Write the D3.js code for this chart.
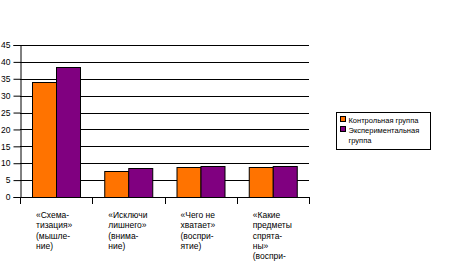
<!DOCTYPE html>
<html>
<head>
<meta charset="utf-8">
<script src="https://cdn.jsdelivr.net/npm/d3@7"></script>
<style>
  body { margin: 0; background: #fff; }
  text { font-family: "Liberation Sans", Arial, sans-serif; }
</style>
</head>
<body>
<svg id="chart" width="458" height="269"></svg>
<script>
// chart data
const categories = [
  ["«Схема-", "тизация»", "(мышле-", "ние)"],
  ["«Исключи", "лишнего»", "(внима-", "ние)"],
  ["«Чего не", "хватает»", "(воспри-", "ятие)"],
  ["«Какие", "предметы", "спрята-", "ны»", "(воспри-"]
];
const seriesNames = ["Контрольная группа", "Экспериментальная группа"];
const controlValues = [34.0, 7.6, 8.9, 8.8];
const experimentValues = [38.5, 8.6, 9.2, 9.1];
const yTicks = [0, 5, 10, 15, 20, 25, 30, 35, 40, 45];
const colors = ["#ff7300", "#800080"];

const svg = d3.select('#chart');
const plot = { left: 20, right: 309, top: 45, bottom: 197 };

let y = d3.scaleLinear()
  .domain([0, 45])
  .range([plot.bottom, plot.top]);

let x0 = d3.scaleBand()
  .domain(d3.range(categories.length))
  .range([plot.left, plot.right])
  .paddingInner(0)
  .paddingOuter(0);

let x1 = d3.scaleBand()
  .domain([0, 1])
  .range([0, x0.bandwidth()])
  .paddingOuter(0.5);

// gridlines
svg.append('g')
  .selectAll('line')
  .data(yTicks.filter(d => d > 0))
  .join('line')
  .attr('x1', plot.left)
  .attr('x2', plot.right)
  .attr('y1', d => Math.round(y(d)) + 0.5)
  .attr('y2', d => Math.round(y(d)) + 0.5)
  .attr('stroke', '#000')
  .attr('stroke-width', 1);

// bars
const rows = d3.range(categories.length).map(i => [controlValues[i], experimentValues[i]]);
const groups = svg.append('g')
  .selectAll('g')
  .data(rows)
  .join('g')
  .attr('transform', (d, i) => `translate(${x0(i)},0)`);

groups.selectAll('rect')
  .data(d => d)
  .join('rect')
  .attr('x', (d, j) => Math.round(x1(j)) + 0.5)
  .attr('y', d => Math.round(y(d)) + 0.5)
  .attr('width', Math.round(x1.bandwidth()))
  .attr('height', d => Math.round(y(0)) - Math.round(y(d)))
  .attr('fill', (d, j) => colors[j])
  .attr('stroke', '#000')
  .attr('stroke-width', 1);

// y axis
const yAxis = svg.append('g')
  .attr('transform', `translate(${plot.left + 0.5},0)`)
  .call(d3.axisLeft(y).tickValues(yTicks).tickSize(7).tickPadding(3));
yAxis.select('.domain').attr('stroke', '#000');
yAxis.selectAll('.tick line').attr('stroke', '#000');
yAxis.selectAll('.tick text')
  .attr('fill', '#000')
  .style('font-size', '8.5px')
  .style('font-family', '"Liberation Sans", Arial, sans-serif');

// x axis baseline and category ticks
svg.append('line')
  .attr('x1', plot.left)
  .attr('x2', plot.right + 1)
  .attr('y1', Math.round(y(0)) + 0.5)
  .attr('y2', Math.round(y(0)) + 0.5)
  .attr('stroke', '#000');

svg.append('g')
  .selectAll('line')
  .data(d3.range(categories.length + 1))
  .join('line')
  .attr('x1', i => Math.round(plot.left + i * x0.step()) + 0.5)
  .attr('x2', i => Math.round(plot.left + i * x0.step()) + 0.5)
  .attr('y1', Math.round(y(0)))
  .attr('y2', Math.round(y(0)) + 7)
  .attr('stroke', '#000');

// category labels, wrapped like the original
svg.append('g')
  .selectAll('text')
  .data(categories)
  .join('text')
  .attr('transform', (d, i) => `translate(${x0(i) + 16},218)`)
  .style('font-size', '8.5px')
  .attr('fill', '#000')
  .selectAll('tspan')
  .data(d => d)
  .join('tspan')
  .attr('x', 0)
  .attr('y', (d, i) => i * 10.3)
  .text(d => d);

// legend
const legend = svg.append('g').attr('transform', 'translate(336.5,112.5)');
legend.append('rect')
  .attr('width', 94)
  .attr('height', 37)
  .attr('fill', '#fff')
  .attr('stroke', '#000');

const legendLines = [["Контрольная группа"], ["Экспериментальная", "группа"]];
legendLines.forEach((lines, i) => {
  legend.append('rect')
    .attr('x', 4)
    .attr('y', 4 + i * 10)
    .attr('width', 5)
    .attr('height', 5)
    .attr('fill', colors[i])
    .attr('stroke', '#000');
  legend.append('text')
    .attr('x', 12)
    .attr('y', 10 + i * 10)
    .style('font-size', '7.5px')
    .attr('fill', '#000')
    .selectAll('tspan')
    .data(lines)
    .join('tspan')
    .attr('x', 12)
    .attr('dy', (d, k) => k === 0 ? 0 : 10)
    .text(d => d);
});
</script>
</body>
</html>
